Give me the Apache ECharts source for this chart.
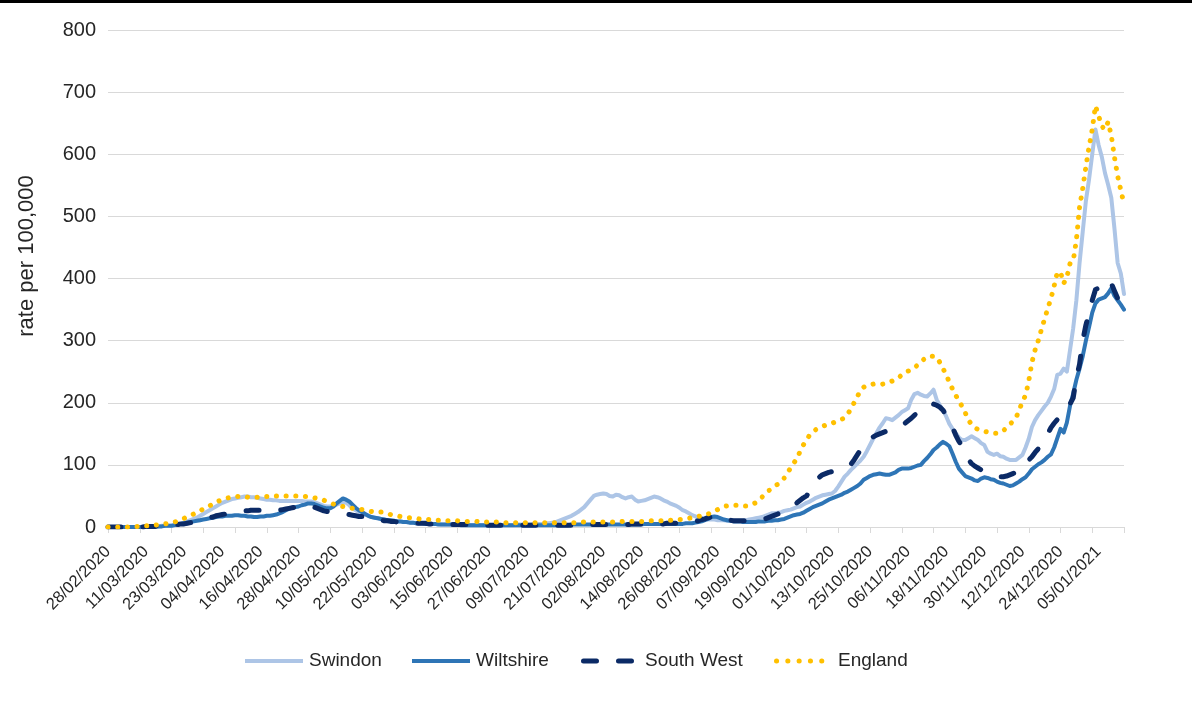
<!DOCTYPE html>
<html>
<head>
<meta charset="utf-8">
<title>COVID-19 rate per 100,000</title>
<script src="https://cdn.jsdelivr.net/npm/echarts@6/dist/echarts.min.js"></script>
<style>
  html, body { margin: 0; padding: 0; background: #ffffff; }
  #chart { width: 1192px; height: 701px; }
</style>
</head>
<body>
<div id="chart"></div>
<script>
// Daily rolling rate per 100,000, one value per day starting 28/02/2020.
const startDate = [2020, 1, 28];

const swindon = [
  0,0,0,0,0,0,0,0,0,0,
  0,0,1,1,1,1,1,2,2,2,
  2,3,4,5,7,9,11,13,15,18,
  21,24,27,30,33,36,39,41,43,45,
  46,47,48,49,49,48,48,47,46,45,
  44,44,43,43,42,42,42,42,42,42,
  42,42,41,41,41,40,38,36,34,33,
  33,34,36,38,40,39,35,30,27,24,
  22,20,18,16,15,14,13,12,11,10,
  10,9,9,8,8,7,7,6,6,6,
  6,5,5,5,5,4,4,4,4,4,
  4,4,4,4,3,3,3,3,3,3,
  3,3,3,3,3,3,3,3,3,4,
  4,4,4,4,5,5,5,5,6,6,
  7,8,10,12,14,16,18,21,24,28,
  32,38,44,50,52,53,54,53,50,49,
  52,51,48,46,48,49,44,41,42,43,
  45,47,49,48,46,43,41,38,36,34,
  31,27,25,22,19,17,15,14,13,12,
  12,12,11,11,11,10,10,10,10,10,
  10,11,12,13,14,15,16,18,20,22,
  22,23,24,26,27,28,30,32,33,36,
  39,41,44,47,49,51,52,53,54,58,
  65,73,81,86,92,97,102,107,113,122,
  132,142,151,160,167,175,174,172,176,180,
  185,188,191,205,214,216,213,211,210,215,
  221,205,196,188,178,166,158,151,144,140,
  140,143,146,143,140,135,132,121,118,116,
  118,114,113,110,108,108,108,112,116,128,
  142,161,172,180,187,194,200,210,222,245,
  247,255,250,285,320,365,425,475,525,560,
  600,640,615,596,570,551,530,480,425,408,
  375
];

const wiltshire = [
  0,0,0,0,0,0,0,0,0,0,
  0,0,0,0,1,1,1,1,2,2,
  2,3,4,5,6,7,8,9,10,11,
  12,13,14,15,16,17,17,18,18,18,
  19,19,18,18,17,17,16,16,17,17,
  18,18,19,20,22,24,27,29,31,32,
  33,35,36,38,38,37,35,33,31,30,
  30,33,38,42,46,44,41,36,31,27,
  24,21,18,16,15,14,13,12,11,11,
  10,9,9,8,8,7,7,6,6,6,
  5,5,5,5,4,4,4,4,4,4,
  4,3,3,3,3,3,3,3,3,3,
  3,3,3,3,3,3,3,3,3,3,
  3,3,3,3,3,3,3,3,3,3,
  3,3,3,3,3,3,4,4,4,4,
  4,4,4,4,4,4,4,4,4,4,
  4,4,4,4,4,4,4,4,4,5,
  5,5,5,5,5,5,5,5,5,5,
  5,5,6,6,6,7,8,9,11,13,
  16,17,16,14,12,11,10,9,9,9,
  8,8,8,8,8,9,9,9,10,10,
  11,11,12,13,15,17,19,20,21,23,
  26,29,32,34,36,38,41,44,46,48,
  50,52,55,57,60,63,66,70,76,79,
  82,84,85,86,85,84,84,86,88,92,
  94,94,94,95,97,99,100,106,111,117,
  124,128,133,137,134,130,118,105,94,88,
  82,80,78,75,74,78,80,79,77,76,
  73,71,70,68,66,67,70,73,77,80,
  86,93,97,101,104,108,113,117,128,143,
  158,152,168,195,215,237,255,275,300,322,
  345,360,366,368,370,376,384,372,365,358,
  350
];

const southWest = [
  0,0,0,0,0,0,0,0,0,0,
  0,0,1,1,1,1,2,2,2,3,
  3,4,4,5,5,6,7,8,9,10,
  12,13,15,16,18,19,20,21,22,23,
  24,25,25,26,26,27,27,27,27,26,
  26,25,25,26,27,28,29,30,31,32,
  34,35,35,34,33,32,30,28,26,25,
  24,23,22,22,21,21,20,19,18,17,
  17,16,14,13,12,11,11,10,10,9,
  9,8,8,8,7,7,7,6,6,6,
  6,5,5,5,5,5,5,4,4,4,
  4,4,4,4,4,4,3,3,3,3,
  3,3,3,3,3,3,3,3,3,3,
  3,3,3,3,3,3,3,3,3,3,
  3,3,3,3,3,3,3,3,4,4,
  4,4,4,4,4,4,4,4,4,4,
  4,4,4,4,4,5,5,5,5,5,
  5,5,5,5,5,5,6,6,6,6,
  6,7,7,8,8,9,10,12,13,15,
  16,17,17,16,14,12,11,10,10,10,
  10,10,11,11,11,12,12,13,15,17,
  19,21,23,25,28,31,35,39,43,47,
  50,57,65,73,80,84,86,88,89,91,
  93,95,97,99,101,108,116,124,132,139,
  142,145,148,150,152,154,156,158,161,163,
  164,167,171,175,180,184,188,192,196,198,
  198,196,193,188,180,170,160,148,138,130,
  118,108,102,98,95,92,89,87,85,83,
  82,81,81,82,84,86,88,90,96,102,
  108,113,120,126,133,143,150,160,167,173,
  178,182,188,198,208,240,262,300,325,345,
  365,382,385,388,392,398,392,380,368,358,
  350
];

const england = [
  0,0,0,0,0,0,0,0,1,1,
  1,1,2,2,3,3,4,5,5,6,
  7,8,10,12,14,16,18,21,23,26,
  29,31,34,37,40,42,44,46,47,48,
  49,49,49,49,48,48,48,48,48,49,
  49,49,50,50,50,50,50,50,50,50,
  50,50,49,49,48,47,46,45,43,41,
  39,37,35,34,33,32,31,30,29,28,
  28,27,26,25,25,24,24,23,22,20,
  19,18,17,16,15,15,14,14,13,13,
  12,12,12,11,11,11,10,10,10,10,
  10,9,9,9,9,9,9,8,8,8,
  8,8,8,8,7,7,7,7,7,7,
  7,7,7,7,7,7,7,7,7,7,
  7,7,7,7,7,7,7,7,8,8,
  8,8,8,8,8,8,8,8,8,8,
  8,8,9,9,9,9,9,9,9,9,
  9,10,10,10,10,10,10,11,11,11,
  12,12,13,14,15,16,17,18,19,21,
  23,25,28,31,33,34,35,35,35,34,
  34,34,35,37,39,43,48,54,58,62,
  66,69,73,79,87,95,103,110,122,132,
  140,148,153,157,160,162,164,166,167,169,
  171,173,176,182,190,200,210,219,225,228,
  229,230,230,230,230,231,233,235,237,240,
  245,248,251,253,256,261,266,270,274,275,
  275,273,265,255,245,233,222,212,203,194,
  184,172,165,160,157,155,154,153,152,151,
  151,152,155,160,165,170,176,188,202,212,
  235,265,285,300,318,335,352,368,388,410,
  410,392,402,424,428,462,515,545,580,612,
  640,678,662,645,640,652,630,595,565,542,
  520
];

const seriesNames = ['Swindon', 'Wiltshire', 'South West', 'England'];
const yTicks = { min: 0, max: 800, step: 100 };
const yTitle = 'rate per 100,000';

// Category labels: one date per data point, DD/MM/YYYY
function pad(n) { return (n < 10 ? '0' : '') + n; }
const dates = [];
for (let i = 0; i < swindon.length; i++) {
  const d = new Date(Date.UTC(startDate[0], startDate[1], startDate[2] + i));
  dates.push(pad(d.getUTCDate()) + '/' + pad(d.getUTCMonth() + 1) + '/' + d.getUTCFullYear());
}

const FONT = '"Liberation Sans", Arial, Helvetica, sans-serif';
const TEXT = '#262626';
const GRID = '#D9D9D9';

// Line looks shared by the series and the legend keys
const looks = [
  { color: '#ADC5E6', width: 4, dash: null, cap: 'round' },
  { color: '#2E75B6', width: 4, dash: null, cap: 'round' },
  { color: '#0B2A66', width: 5, dash: [13, 22], cap: 'round' },
  { color: '#FFC000', width: 5, dash: [0.1, 9.6], cap: 'round' }
];

// Legend keys drawn as graphic lines and text along one row
const legendRow = { y: 661, keyLen: 58, textGap: 6 };
const legendStarts = [245, 412, 581, 774];
const legendGraphics = [];
seriesNames.forEach((name, i) => {
  const lk = looks[i];
  const x0 = legendStarts[i];
  const inset = lk.dash ? lk.width / 2 : 0;
  legendGraphics.push({
    type: 'line', silent: true,
    shape: { x1: x0 + inset, y1: legendRow.y, x2: x0 + legendRow.keyLen - inset, y2: legendRow.y },
    style: {
      stroke: lk.color, lineWidth: lk.width,
      lineDash: lk.dash ? (i === 3 ? [0.1, 11.2] : lk.dash) : null,
      lineCap: lk.dash ? 'round' : 'butt'
    }
  });
  legendGraphics.push({
    type: 'text', silent: true,
    x: x0 + legendRow.keyLen + legendRow.textGap, y: legendRow.y,
    style: { text: name, fontSize: 19, fill: TEXT, fontFamily: FONT, align: 'left', verticalAlign: 'middle' }
  });
});

const chart = echarts.init(document.getElementById('chart'), null, { renderer: 'canvas' });

chart.setOption({
  animation: false,
  backgroundColor: '#ffffff',
  grid: { left: 108, right: 68, top: 30, bottom: 174, containLabel: false },
  xAxis: {
    type: 'category',
    data: dates,
    boundaryGap: false,
    axisLine: { show: true, lineStyle: { color: GRID, width: 1 } },
    axisTick: { show: true, interval: 9, length: 6, lineStyle: { color: GRID, width: 1 } },
    axisLabel: {
      interval: 11, rotate: 45, fontSize: 16.5, color: TEXT,
      fontFamily: FONT, margin: 22
    },
    splitLine: { show: false }
  },
  yAxis: {
    type: 'value',
    min: yTicks.min, max: yTicks.max, interval: yTicks.step,
    axisLine: { show: false },
    axisTick: { show: false },
    axisLabel: { fontSize: 20, color: TEXT, fontFamily: FONT, margin: 12 },
    splitLine: { show: true, lineStyle: { color: GRID, width: 1 } }
  },
  legend: { show: false, data: seriesNames },
  graphic: [
    { type: 'rect', silent: true, shape: { x: 0, y: 0, width: 1192, height: 3 }, style: { fill: '#000000' } },
    {
      type: 'text', silent: true, x: 27, y: 256, rotation: Math.PI / 2,
      style: { text: yTitle, fontSize: 22, fill: TEXT, fontFamily: FONT, align: 'center', verticalAlign: 'middle' }
    }
  ].concat(legendGraphics),
  series: [swindon, wiltshire, southWest, england].map((values, i) => ({
    name: seriesNames[i],
    type: 'line',
    data: values,
    symbol: 'none',
    z: 2 + i,
    itemStyle: { color: looks[i].color },
    lineStyle: {
      color: looks[i].color, width: looks[i].width,
      type: looks[i].dash || 'solid', cap: looks[i].cap, join: 'round'
    }
  }))
});
</script>
</body>
</html>
